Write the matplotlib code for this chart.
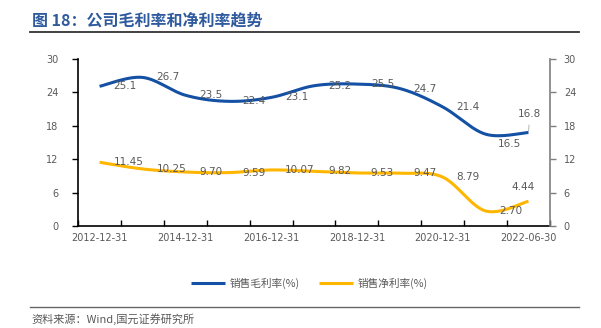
import matplotlib.pyplot as plt
import numpy as np

plt.rcParams['font.family'] = ['DejaVu Sans', 'Noto Sans CJK SC']

dates = ['2012-12-31', '2013-12-31', '2014-12-31', '2015-12-31', '2016-12-31',
         '2017-12-31', '2018-12-31', '2019-12-31', '2020-12-31', '2021-12-31',
         '2022-06-30']
gross = [25.1, 26.7, 23.5, 22.4, 23.1, 25.2, 25.5, 24.7, 21.4, 16.5, 16.8]
net = [11.45, 10.25, 9.70, 9.59, 10.07, 9.82, 9.53, 9.47, 8.79, 2.70, 4.44]
gross_lbl = ['25.1', '26.7', '23.5', '22.4', '23.1', '25.2', '25.5', '24.7', '21.4', '16.5', '16.8']
net_lbl = ['11.45', '10.25', '9.70', '9.59', '10.07', '9.82', '9.53', '9.47', '8.79', '2.70', '4.44']

blue = '#1450A3'
gold = '#FFB600'
grey = '#595959'


def smooth(xs, ys, n=30):
    # excel-like smoothed line (catmull-rom as bezier)
    pts = np.column_stack([xs, ys]).astype(float)
    p = np.vstack([pts[0], pts, pts[-1]])
    out = []
    t = np.linspace(0, 1, n)[:, None]
    for i in range(1, len(p) - 2):
        p0, p1, p2, p3 = p[i - 1], p[i], p[i + 1], p[i + 2]
        c1 = p1 + (p2 - p0) / 6
        c2 = p2 - (p3 - p1) / 6
        seg = (1 - t) ** 3 * p1 + 3 * (1 - t) ** 2 * t * c1 + 3 * (1 - t) * t ** 2 * c2 + t ** 3 * p2
        out.append(seg)
    s = np.vstack(out)
    return s[:, 0], s[:, 1]


fig = plt.figure(figsize=(6.01, 3.28), dpi=100)
ax = fig.add_axes([0.130, 0.311, 0.785, 0.509])
ax2 = ax.twinx()

x = np.arange(len(dates))
sx, sy = smooth(x, gross)
ax.plot(sx, sy, color=blue, lw=2.2, label='销售毛利率(%)', solid_capstyle='butt')
sx, sy = smooth(x, net)
ax.plot(sx, sy, color=gold, lw=2.2, label='销售净利率(%)', solid_capstyle='butt')

ax.set_xlim(-0.5, len(dates) - 0.5)
for a in (ax, ax2):
    a.set_ylim(0, 30)
    a.set_yticks(np.arange(0, 31, 6))

ax.set_xticks(x[::2])
ax.set_xticklabels(dates[::2])
ax.set_xticks(np.arange(-0.5, len(dates), 1), minor=True)
ax.tick_params(axis='x', which='major', length=0, pad=5, labelsize=7, labelcolor=grey)
ax.tick_params(axis='x', which='minor', direction='in', length=4, width=1, color='black')
ax.tick_params(axis='y', direction='out', length=4, width=1, color='black', labelsize=7, labelcolor=grey, pad=10)
ax2.tick_params(axis='y', direction='out', length=4, width=1, color='#7F7F7F', labelsize=7, labelcolor=grey, pad=6)

for s in ['top']:
    ax.spines[s].set_visible(False)
    ax2.spines[s].set_visible(False)
ax.spines['right'].set_visible(False)
ax2.spines['left'].set_visible(False)
ax2.spines['bottom'].set_visible(False)
ax.spines['left'].set_linewidth(1.2)
ax.spines['bottom'].set_linewidth(1.2)
ax2.spines['right'].set_linewidth(1.2)
ax2.spines['right'].set_color('#7F7F7F')

# data labels
fs = 7.5
for i, v in enumerate(gross):
    if i == 9:
        ax.annotate(gross_lbl[i], (i, v), xytext=(9, -7), textcoords='offset points',
                    ha='left', va='center', fontsize=fs, color=grey)
    elif i == 10:
        ax.annotate(gross_lbl[i], (i, v), xytext=(1, 13), textcoords='offset points',
                    ha='center', va='center', fontsize=fs, color=grey,
                    arrowprops=dict(arrowstyle='-', color='#A6A6A6', lw=0.6, shrinkA=2, shrinkB=1))
    else:
        ax.annotate(gross_lbl[i], (i, v), xytext=(10, 0), textcoords='offset points',
                    ha='left', va='center', fontsize=fs, color=grey)
for i, v in enumerate(net):
    if i == 10:
        ax.annotate(net_lbl[i], (i, v), xytext=(-4, 10), textcoords='offset points',
                    ha='center', va='center', fontsize=fs, color=grey)
    else:
        ax.annotate(net_lbl[i], (i, v), xytext=(10, 0), textcoords='offset points',
                    ha='left', va='center', fontsize=fs, color=grey)

leg = ax.legend(loc='center', bbox_to_anchor=(0.515, 0.137), bbox_transform=fig.transFigure,
                ncol=2, frameon=False, handlelength=3.2, handletextpad=0.4, columnspacing=1.8,
                prop={'family': 'Noto Sans CJK SC', 'size': 7.7})
for t in leg.get_texts():
    t.set_color(grey)

fig.text(0.053, 0.938, '图 18：公司毛利率和净利率趋势', fontsize=11.5, fontweight='bold',
         color='#2F5B9E', family='Noto Sans CJK SC', va='center')
fig.add_artist(plt.Line2D([0.05, 0.963], [0.902, 0.902], color='#333333', lw=1.3))
fig.add_artist(plt.Line2D([0.05, 0.963], [0.064, 0.064], color='#666666', lw=1.0))
fig.text(0.052, 0.027, '资料来源：Wind,国元证券研究所', fontsize=8, color=grey,
         family='Noto Sans CJK SC', va='center')

fig.savefig('out.png', dpi=100)
